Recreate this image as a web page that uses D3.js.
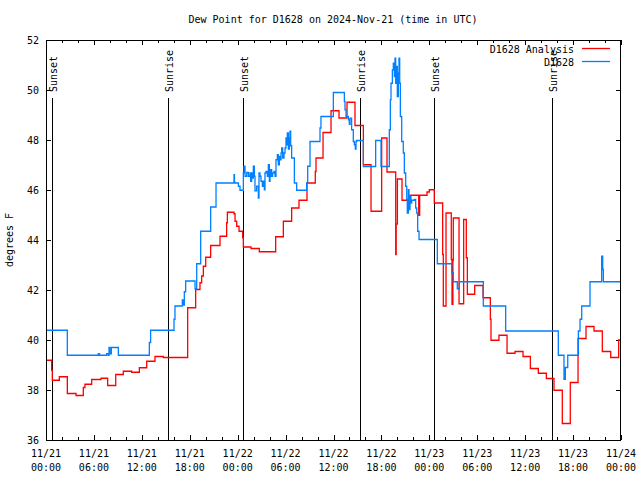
<!DOCTYPE html>
<html>
<head>
<meta charset="utf-8">
<script src="https://cdn.jsdelivr.net/npm/d3@7"></script>
<style>
  body { margin: 0; background: #fff; }
  svg { display: block; }
  text { font-family: "DejaVu Sans Mono", monospace; font-size: 10px; fill: #000; }
</style>
</head>
<body>
<svg id="chart" width="640" height="480"></svg>
<script>
// ---- data (hours since 2024-11-21 00:00 UTC) ----
const titleText = "Dew Point for D1628 on 2024-Nov-21 (time in UTC)";
const yLabel = "degrees F";
const seriesNames = ["D1628 Analysis", "D1628"];
const yTicks = [36, 38, 40, 42, 44, 46, 48, 50, 52];

const sunHours = [0.71, 15.3, 24.66, 39.34, 48.6, 63.37];
const sunLabels = ["Sunset", "Sunrise", "Sunset", "Sunrise", "Sunset", "Sunrise"];

const redHours = [0, 0.71, 0.79, 1.67, 2.67, 3.76, 4.67, 4.88, 5.72, 6.89, 7.72, 8.73, 9.68, 10.73, 11.69, 12.61, 13.65, 14.69,
  17.74, 18.74, 19.28, 19.49, 19.70, 20.0, 20.62, 21.79, 22.62, 22.71, 23.54, 23.67, 23.88, 24.17, 24.63,
  24.71, 25.67, 26.71, 28.76, 29.72, 30.76, 31.68, 32.68, 33.72, 33.81, 34.69, 35.69, 36.69, 37.69, 38.69,
  39.74, 40.70, 42.03, 42.70, 43.79, 43.85, 44.0, 44.58, 45.58, 46.67, 46.79, 47.71, 48.0, 48.62,
  49.67, 49.75, 50.09, 50.75, 50.84, 50.95, 51.0, 51.72, 52.30, 52.63, 52.76, 53.68, 54.72, 55.64, 55.72,
  56.72, 57.73, 58.73, 59.73, 60.65, 61.65, 62.65, 63.61, 64.65, 65.65, 66.62, 67.62, 68.62, 69.66, 70.71, 71.71, 72];
const redValues = [39.19, 38.79, 38.39, 38.53, 37.86, 37.78, 38.10, 38.23, 38.42, 38.47, 38.18, 38.62, 38.75, 38.71, 38.89, 39.15, 39.34, 39.30,
  41.29, 42.02, 42.29, 42.56, 42.95, 43.31, 43.78, 44.15, 44.69, 45.11, 45.05, 44.75, 44.55, 44.35, 44.09,
  43.72, 43.66, 43.53, 44.13, 44.75, 45.28, 45.59, 46.28, 46.74, 47.28, 48.30, 49.17, 48.88, 49.51, 48.58,
  47.01, 45.15, 48.08, 46.72, 43.42, 44.64, 46.44, 45.59, 45.79, 44.99, 45.79, 45.92, 46.01, 45.48,
  43.42, 41.36, 45.08, 43.22, 41.43, 43.2, 44.88, 41.45, 44.82, 43.29, 41.83, 42.18, 41.69, 40.83, 39.99,
  40.19, 39.47, 39.54, 39.34, 38.86, 38.67, 38.46, 37.99, 36.66, 38.30, 40.06, 40.54, 40.36, 39.54, 39.30, 40.0, 40.0];

const blueHours = [0, 2.67, 6.55, 6.7, 7.6, 7.8, 7.89, 8.01, 8.18, 9.06, 12.94, 13.10, 16.03, 16.15, 17.07, 17.2, 17.32, 17.49,
  18.66, 18.87, 19.37, 20.62, 21.29, 23.54, 23.6, 23.67, 24.09, 24.29,
  24.71, 24.79, 24.92, 25.13, 25.34, 25.54, 25.63, 25.75, 25.88, 25.96, 26.09, 26.17, 26.38, 26.59, 26.67, 26.79, 26.92,
  27.09, 27.21, 27.34, 27.42, 27.55, 27.72, 27.84, 27.97, 28.05, 28.13, 28.26, 28.38, 28.55, 28.68, 28.80, 28.97,
  29.09, 29.22, 29.30, 29.43, 29.51, 29.64, 29.80, 29.93, 30.05, 30.14, 30.22, 30.35, 30.47, 30.55, 30.64, 30.76,
  31.10, 31.39, 32.64, 32.77, 33.06, 34.31, 34.43, 35.98, 37.36, 37.44, 37.57, 37.86, 37.98, 38.07, 38.27, 38.48,
  38.61, 38.73, 38.82, 38.9, 39.74, 41.28, 41.95, 42.86, 42.99, 43.12, 43.2, 43.37, 43.49, 43.62, 43.70, 43.79,
  43.91, 43.99, 44.12, 44.2, 44.29, 44.37, 44.54, 44.74, 44.87, 45.04, 45.17, 45.24, 45.37, 45.45, 45.58, 45.70,
  45.79, 46.12, 46.29, 46.42, 46.54, 46.71, 49.0, 50.8, 51.0, 51.5, 51.76, 54.76, 57.56, 64.15, 64.86, 65.03,
  65.33, 66.66, 66.87, 67.08, 68.12, 69.58, 69.71, 69.79, 72];
const blueValues = [40.39, 39.39, 39.45, 39.39, 39.45, 39.39, 39.70, 39.45, 39.70, 39.39, 39.90, 40.39, 40.83, 41.36, 41.6, 41.4, 41.93, 42.36,
  42.05, 43.05, 44.35, 45.32, 46.28, 46.61, 46.3, 46.28, 46.15, 45.99,
  46.68, 46.95, 46.55, 46.70, 46.55, 46.68, 46.35, 46.68, 46.48, 46.95, 46.55, 45.97, 46.15, 45.68, 46.68, 46.55, 46.35,
  46.15, 46.35, 46.01, 46.68, 46.74, 46.55, 47.01, 46.35, 46.55, 46.81, 46.55, 46.68, 46.74, 46.55, 47.21, 47.41,
  47.01, 47.34, 47.21, 47.48, 47.68, 47.28, 47.48, 47.68, 48.08, 47.81, 48.28, 47.64, 48.08, 48.35, 47.77, 47.28,
  46.28, 45.99, 46.28, 46.95, 47.94, 48.48, 48.94, 49.90, 49.54, 49.21, 48.94, 48.81, 48.63, 48.87, 48.41, 47.94,
  47.81, 47.64, 47.94, 47.98, 46.94, 47.98, 46.94, 46.94, 48.41, 49.61, 50.27, 50.80, 51.07, 50.54, 51.27, 50.27,
  50.94, 49.74, 50.67, 51.27, 50.27, 48.94, 47.94, 47.48, 46.68, 46.15, 45.62, 45.08, 46.01, 45.22, 45.75, 45.48,
  45.59, 45.62, 45.28, 45.08, 44.35, 44.02, 43.05, 42.69, 42.33, 42.05, 42.33, 41.36, 40.36, 39.39, 38.43, 38.90,
  39.39, 40.36, 40.83, 41.36, 42.33, 43.35, 42.82, 42.33, 42.33];

// ---- chart ----
const start = Date.UTC(2024, 10, 21);
const toDate = h => new Date(start + h * 3600e3);
const L = 46, R = 621, T = 40, B = 440;

const svg = d3.select("#chart");
const x = d3.scaleUtc().domain([toDate(0), toDate(72)]).range([L, R]);
const y = d3.scaleLinear().domain([36, 52]).range([B, T]);

svg.append("rect").attr("width", 640).attr("height", 480).attr("fill", "#fff");

svg.append("defs").append("clipPath").attr("id", "clip")
  .append("rect").attr("x", L).attr("y", T).attr("width", R - L).attr("height", B - T);

// title
svg.append("text").attr("x", 333).attr("y", 23).attr("text-anchor", "middle").text(titleText);

// y label
svg.append("text").attr("transform", "translate(13,240) rotate(-90)")
  .attr("text-anchor", "middle").text(yLabel);

// x axis ticks (bottom & top), minor every 2h, major every 6h
const minor = d3.utcHour.every(2).range(toDate(0), toDate(72.01));
const major = d3.utcHour.every(6).range(toDate(0), toDate(72.01));

const tickG = svg.append("g").attr("stroke", "#000").attr("stroke-width", 1).attr("shape-rendering", "crispEdges");
minor.forEach(d => {
  const isMajor = d.getUTCHours() % 6 === 0;
  const len = isMajor ? 5 : 3;
  const px = Math.round(x(d)) + 0.5;
  tickG.append("line").attr("x1", px).attr("x2", px).attr("y1", B).attr("y2", B - len);
  tickG.append("line").attr("x1", px).attr("x2", px).attr("y1", T).attr("y2", T + len);
});
yTicks.forEach(v => {
  const py = Math.round(y(v)) + 0.5;
  tickG.append("line").attr("x1", L).attr("x2", L + 5).attr("y1", py).attr("y2", py);
  tickG.append("line").attr("x1", R).attr("x2", R - 5).attr("y1", py).attr("y2", py);
});

// x labels
const fmtD = d3.utcFormat("%m/%d"), fmtT = d3.utcFormat("%H:%M");
major.forEach(d => {
  const t = svg.append("text").attr("text-anchor", "middle");
  t.append("tspan").attr("x", x(d)).attr("y", 457).text(fmtD(d));
  t.append("tspan").attr("x", x(d)).attr("y", 471).text(fmtT(d));
});

// y labels
yTicks.forEach(v => {
  svg.append("text").attr("x", 39).attr("y", y(v) + 4).attr("text-anchor", "end").text(v);
});

// sunrise / sunset
sunHours.forEach((h, i) => {
  const px = Math.round(x(toDate(h))) + 0.5;
  svg.append("line").attr("x1", px).attr("x2", px).attr("y1", 98).attr("y2", B)
    .attr("stroke", "#000").attr("stroke-width", 1).attr("shape-rendering", "crispEdges");
  svg.append("text").attr("transform", `translate(${px + 4},92) rotate(-90)`)
    .attr("text-anchor", "start").text(sunLabels[i]);
});

// series
const line = d3.line().x(d => x(toDate(d[0]))).y(d => y(d[1])).curve(d3.curveStepAfter);
const redData = redHours.map((h, i) => [h, redValues[i]]);
const blueData = blueHours.map((h, i) => [h, blueValues[i]]);
const plotG = svg.append("g").attr("clip-path", "url(#clip)");
plotG.append("path").datum(redData).attr("d", line).attr("fill", "none")
  .attr("stroke", "#ff0000").attr("stroke-width", 1.3);
plotG.append("path").datum(blueData).attr("d", line).attr("fill", "none")
  .attr("stroke", "#0080ff").attr("stroke-width", 1.3);

// border
svg.append("rect").attr("x", L + 0.5).attr("y", T + 0.5).attr("width", R - L - 1).attr("height", B - T)
  .attr("fill", "none").attr("stroke", "#000").attr("stroke-width", 1).attr("shape-rendering", "crispEdges");

// legend
const legColors = ["#ff0000", "#0080ff"];
seriesNames.forEach((n, i) => {
  const ly = 53 + i * 13;
  svg.append("text").attr("x", 574).attr("y", ly).attr("text-anchor", "end").text(n);
  svg.append("line").attr("x1", 582).attr("x2", 610).attr("y1", ly - 4.5).attr("y2", ly - 4.5)
    .attr("stroke", legColors[i]).attr("stroke-width", 1.3);
});
</script>
</body>
</html>
